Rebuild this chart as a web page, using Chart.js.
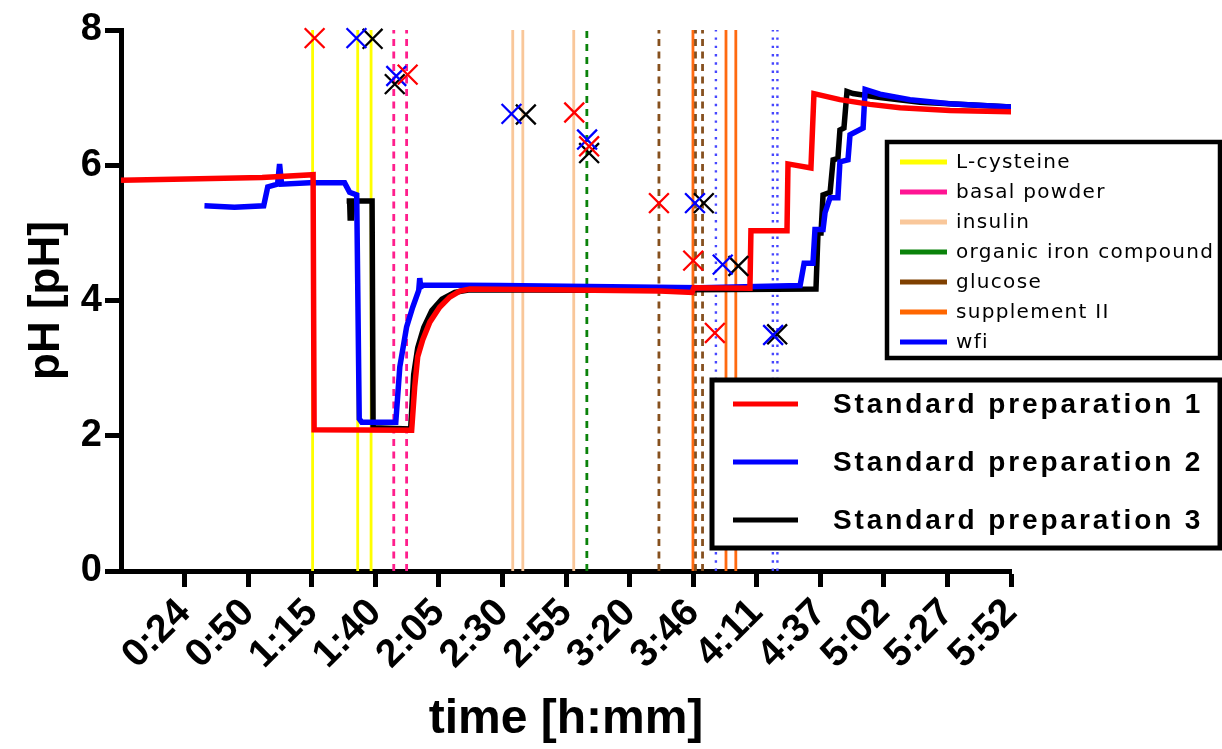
<!DOCTYPE html>
<html><head><meta charset="utf-8">
<script src="https://cdn.jsdelivr.net/npm/chart.js@4.4.1/dist/chart.umd.min.js"></script>
<style>html,body{margin:0;padding:0;background:#fff;}#wrap{width:1222px;height:749px;}</style>
</head><body><div id="wrap"><canvas id="c" width="1222" height="749"></canvas></div>
<script>
// ---- axis ----
const xMin = -1.01;
const xTickValues = [24.21, 49.43, 74.65, 99.87, 125.09, 150.31, 175.53, 200.75, 225.97, 251.19, 276.41, 301.63, 326.85, 352.07];
const xTickLabels = ['0:24','0:50','1:15','1:40','2:05','2:30','2:55','3:20','3:46','4:11','4:37','5:02','5:27','5:52'];
const yTickValues = [0, 2, 4, 6, 8];

// ---- pH curves (time in minutes) ----
const prep1Time = [-1.0, 30, 55, 75.2, 75.6, 114.3, 115.5, 116.7, 118.7, 121.5, 125.4, 129.4, 133.4, 137.4, 169.1, 212.8, 225.5, 226.3, 248.5, 248.9, 263.2, 263.6, 272.7, 273.9, 284.2, 296.1, 308.1, 327.9, 352.1];
const prep1PH   = [5.78, 5.80, 5.82, 5.86, 2.09, 2.08, 2.72, 3.17, 3.42, 3.68, 3.90, 4.05, 4.14, 4.17, 4.16, 4.14, 4.12, 4.19, 4.18, 5.03, 5.03, 6.02, 5.96, 7.06, 6.97, 6.90, 6.85, 6.81, 6.79];

const prep2Time = [32.1, 44.0, 55.6, 57.2, 61.1, 61.9, 62.7, 73.8, 87.7, 89.7, 92.5, 93.5, 94.5, 108.0, 109.6, 112.3, 114.7, 117.1, 117.5, 117.9, 119.1, 149.3, 228.7, 268.4, 270.0, 273.5, 274.3, 277.5, 278.3, 280.3, 283.4, 284.2, 287.4, 288.2, 293.4, 294.2, 300.1, 312.0, 327.9, 352.1];
const prep2PH   = [5.40, 5.38, 5.40, 5.68, 5.72, 6.02, 5.72, 5.74, 5.74, 5.60, 5.56, 2.25, 2.20, 2.20, 3.02, 3.61, 3.90, 4.15, 4.33, 4.20, 4.23, 4.22, 4.19, 4.22, 4.55, 4.55, 5.05, 5.05, 5.30, 5.52, 5.52, 6.05, 6.08, 6.45, 6.55, 7.12, 7.05, 6.97, 6.91, 6.86];

const prep3Time = [88.5, 89.7, 89.9, 90.5, 91.0, 98.6, 99.0, 113.9, 115.1, 116.7, 119.1, 122.3, 126.3, 131.4, 137.4, 189.0, 274.7, 275.5, 276.7, 277.5, 280.3, 281.5, 283.4, 284.2, 285.8, 287.0, 289.4, 300.1, 316.0, 352.1];
const prep3PH   = [5.47, 5.47, 5.22, 5.22, 5.47, 5.47, 2.12, 2.10, 2.90, 3.30, 3.60, 3.85, 4.02, 4.12, 4.16, 4.15, 4.17, 5.00, 5.00, 5.56, 5.60, 6.08, 6.10, 6.52, 6.55, 7.09, 7.06, 7.00, 6.93, 6.86];

// ---- addition markers (X) ----
const mark1Time = [75.8, 112.7, 178.8, 184.7, 212.4, 226.0, 234.6];
const mark1PH   = [7.88, 7.34, 6.78, 6.28, 5.44, 4.59, 3.52];
const mark2Time = [92.4, 108.2, 153.9, 183.9, 226.7, 237.7, 257.7];
const mark2PH   = [7.88, 7.32, 6.76, 6.38, 5.44, 4.53, 3.49];
const mark3Time = [98.8, 107.6, 159.6, 184.7, 230.2, 243.9, 259.3];
const mark3PH   = [7.87, 7.20, 6.75, 6.18, 5.44, 4.51, 3.50];

// ---- ingredient addition times ----
const lCysteineTimes   = [75.0, 92.9, 98.2];
const basalPowderTimes = [107.2, 112.3];
const insulinTimes     = [154.4, 158.4, 178.6];
const ironTimes        = [183.8];
const glucoseTimes     = [212.4, 226.9, 229.7];
const supplementTimes  = [225.9, 239.0, 242.9];
const wfiTimes         = [235.0, 257.6, 259.4];

const ingredientNames = ['L-cysteine','basal powder','insulin','organic iron compound','glucose','supplement II','wfi'];
const ingredientColors = ['#FFFF00','#FF1493','#F9C79A','#0A820A','#7F4000','#FF6600','#0000FF'];
const ingredientLineColors = ['#FFFF00','#FF1E8C','#F9C79A','#0A820A','#86501E','#FF6A10','#4646FF'];
const ingredientDash = [[], [7,5.5], [], [7,6], [7,5.5], [], [2.4,5.9]];
const ingredientTimes = [lCysteineTimes, basalPowderTimes, insulinTimes, ironTimes, glucoseTimes, supplementTimes, wfiTimes];

const prepNames = ['Standard preparation 1','Standard preparation 2','Standard preparation 3'];
const prepColors = ['#FF0000','#0000FF','#000000'];

function pts(t, v){ return t.map((x,i)=>({x:x, y:v[i]})); }
function vlines(times){ const d=[]; times.forEach(t=>{ d.push({x:t,y:0},{x:t,y:8},{x:t,y:null}); }); return d; }

const datasets = [];
[[mark1Time,mark1PH],[mark2Time,mark2PH],[mark3Time,mark3PH]].forEach((m,i)=>{
  datasets.push({label:'add'+(i+1), data:pts(m[0],m[1]), showLine:false, pointStyle:'crossRot', pointRadius:14, pointHoverRadius:14,
    borderColor:prepColors[i], pointBorderColor:prepColors[i], pointBorderWidth:2.3, backgroundColor:prepColors[i], order:i, clip:false});
});
[[prep1Time,prep1PH],[prep2Time,prep2PH],[prep3Time,prep3PH]].forEach((s,i)=>{
  datasets.push({label:prepNames[i], data:pts(s[0],s[1]), borderColor:prepColors[i], borderWidth:5.5, pointRadius:0,
    tension:0, borderJoinStyle:'miter', order:5+i});
});
ingredientTimes.forEach((times,i)=>{
  datasets.push({label:ingredientNames[i], data:vlines(times), borderColor:ingredientLineColors[i], borderWidth: i===6?2.4:2.8,
    borderDash:ingredientDash[i], borderCapStyle:'butt', pointRadius:0, spanGaps:false, order:20+i});
});

const legendPlugin = {
  id:'customLegends',
  afterDraw(chart){
    const ctx = chart.ctx;
    ctx.save();
    ctx.fillStyle='#fff'; ctx.fillRect(887,142,333,216);
    ctx.lineWidth=4.5; ctx.strokeStyle='#000'; ctx.strokeRect(887,142,333,216);
    ctx.font='20px "DejaVu Sans"'; ctx.textBaseline='middle'; ctx.textAlign='left';
    try { ctx.letterSpacing='1.3px'; } catch(e) {}
    ingredientNames.forEach((n,i)=>{
      const y = 162 + i*30;
      ctx.strokeStyle = ingredientColors[i]; ctx.lineWidth=5; ctx.setLineDash([]);
      ctx.beginPath(); ctx.moveTo(900,y); ctx.lineTo(947,y); ctx.stroke();
      ctx.fillStyle='#000'; ctx.fillText(n, 956, y+1);
    });
    ctx.fillStyle='#fff'; ctx.fillRect(712,380,508,168);
    ctx.lineWidth=5; ctx.strokeStyle='#000'; ctx.strokeRect(712,380,508,168);
    ctx.font='bold 28px "Liberation Sans"';
    try { ctx.letterSpacing='2.9px'; } catch(e) {}
    prepNames.forEach((n,i)=>{
      const y = 404 + i*58;
      ctx.strokeStyle = prepColors[i]; ctx.lineWidth=5;
      ctx.beginPath(); ctx.moveTo(733,y); ctx.lineTo(798,y); ctx.stroke();
      ctx.fillStyle='#000'; ctx.fillText(n, 833, y+1);
    });
    ctx.restore();
  }
};

new Chart(document.getElementById('c'), {
  type:'line',
  data:{datasets},
  plugins:[legendPlugin],
  options:{
    responsive:false, animation:false, devicePixelRatio:1,
    layout:{padding:{left:0,right:211,top:30,bottom:0}},
    plugins:{legend:{display:false}, tooltip:{enabled:false}},
    events:[],
    scales:{
      x:{type:'linear', min:xMin, max:xTickValues[xTickValues.length-1],
        afterBuildTicks:(s)=>{ s.ticks = xTickValues.map(v=>({value:v})); },
        afterFit:(s)=>{ s.height = 178; },
        grid:{drawOnChartArea:false, drawTicks:true, tickLength:16, tickWidth:5, tickColor:'#000'},
        border:{display:true, width:5, color:'#000'},
        ticks:{autoSkip:false, minRotation:45, maxRotation:45, padding:3, color:'#000',
          font:{family:'"Liberation Sans"', size:39, weight:'bold'},
          callback:(v,i)=>xTickLabels[i]},
        title:{display:true, text:'time [h:mm]', color:'#000', font:{family:'"Liberation Sans"', size:48, weight:'bold'}, padding:{top:0,bottom:0}}
      },
      y:{type:'linear', min:0, max:8,
        afterBuildTicks:(s)=>{ s.ticks = yTickValues.map(v=>({value:v})); },
        afterFit:(s)=>{ s.width = 121; },
        grid:{drawOnChartArea:false, drawTicks:true, tickLength:16, tickWidth:5, tickColor:'#000'},
        border:{display:true, width:5, color:'#000'},
        ticks:{padding:3, color:'#000', font:{family:'"Liberation Sans"', size:38, weight:'bold'}},
        title:{display:true, text:'pH [pH]', color:'#000', font:{family:'"Liberation Sans"', size:44, weight:'bold'}, padding:{top:20,bottom:0}}
      }
    }
  }
});
</script></body></html>
